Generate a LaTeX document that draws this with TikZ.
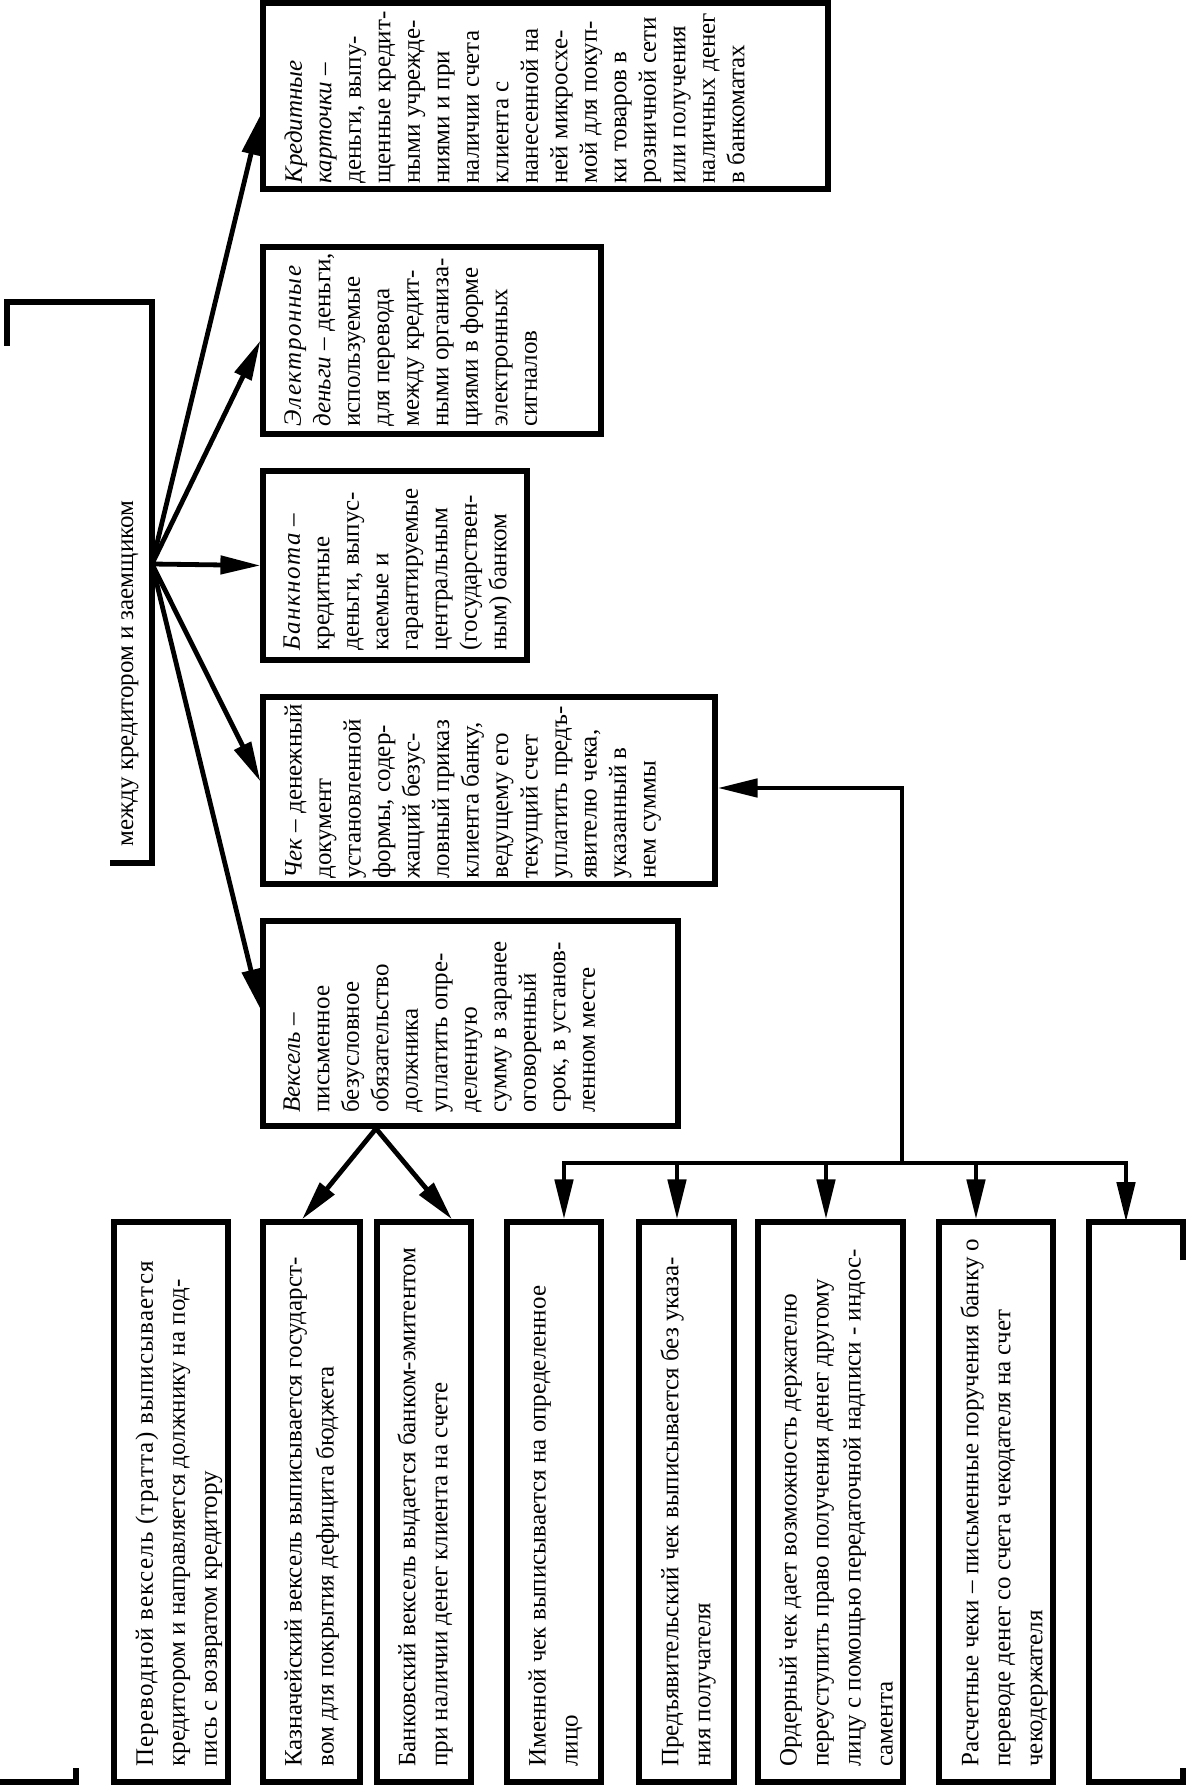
\documentclass[tikz,border=0pt]{standalone}
\usepackage{fontspec}
\setmainfont{Liberation Serif}
\newfontface\itsp{Liberation Serif Italic}[LetterSpace=6]
\newfontface\rmsp{Liberation Serif}[LetterSpace=4.8]
\usetikzlibrary{arrows.meta,fit}
\newcommand\fontUp{\fontsize{12.5pt}{14.75pt}\selectfont}
\newcommand\fontDn{\fontsize{12.5pt}{16pt}\selectfont}
\begin{document}
\begin{tikzpicture}[x=0.5pt,y=-0.5pt,
  box/.style={draw, line width=2.6pt, inner sep=0pt, rectangle},
  txtup/.style={rotate=90, anchor=north west, align=left, inner sep=0pt, font=\fontUp},
  txtdn/.style={rotate=90, anchor=north west, align=left, inner sep=0pt, font=\fontDn},
  ln/.style={line width=2.6pt},
  arr/.style={line width=2.4pt, -{Triangle[length=20pt,width=9pt]}}]
\fill[white] (0,0) rectangle (1186,1786);
\useasboundingbox (0,0) rectangle (1186,1786);

% partial box on the left
\draw[ln] (7,346) -- (7,302) -- (152,302) -- (152,863) -- (110,863);
\node[anchor=base west, rotate=90, inner sep=0pt, font=\fontUp] (mezhT) at (133,847) {между кредитором и заемщиком};
\coordinate (src) at (152,564);

% upper boxes
\node[box, fit={(263,3)(828,189)}] (kred) {};
\node[txtup] (kredT) at (284,184) {\textit{Кредитные}\\\textit{карточки} –\\деньги, выпу-\\щенные кредит-\\ными учрежде-\\ниями и при\\наличии счета\\клиента с\\нанесенной на\\ней микросхе-\\мой для покуп-\\ки товаров в\\розничной сети\\или получения\\наличных денег\\в банкоматах};

\node[box, fit={(263,247)(601,434)}] (elec) {};
\node[txtup] (elecT) at (284,427) {{\itsp Электронные}\\\textit{деньги} – деньги,\\используемые\\для перевода\\между кредит-\\ными организа-\\циями в форме\\электронных\\сигналов};

\node[box, fit={(263,471)(527,660)}] (bank) {};
\node[txtup] (bankT) at (283,651) {{\itsp Банкнота} –\\кредитные\\деньги, выпус-\\каемые и\\гарантируемые\\центральным\\(государствен-\\ным) банком};

\node[box, fit={(263,697)(715,884)}] (chek) {};
\node[txtup] (chekT) at (284,879) {\textit{Чек} – денежный\\документ\\установленной\\формы, содер-\\жащий безус-\\ловный приказ\\клиента банку,\\ведущему его\\текущий счет\\уплатить предъ-\\явителю чека,\\указанный в\\нем суммы};

\node[box, fit={(263,921)(678,1126)}] (veks) {};
\node[txtup] (veksT) at (283,1113) {\textit{Вексель} –\\письменное\\безусловное\\обязательство\\должника\\уплатить опре-\\деленную\\сумму в заранее\\оговоренный\\срок, в установ-\\ленном месте};

% bottom boxes
\node[box, fit={(114,1222)(228,1782)}] (b1) {};
\node[txtdn] (b1T) at (135,1767) {{\rmsp Переводной вексель (тратта) выписывается}\\кредитором и направляется должнику на под-\\пись с возвратом кредитору};

\node[box, fit={(263,1222)(360,1782)}] (b2) {};
\node[txtdn] (b2T) at (284,1767) {Казначейский вексель выписывается государст-\\вом для покрытия дефицита бюджета};

\node[box, fit={(377,1222)(471,1782)}] (b3) {};
\node[txtdn] (b3T) at (397,1767) {Банковский вексель выдается банком-эмитентом\\при наличии денег клиента на счете};

\node[box, fit={(507,1222)(601,1782)}] (b4) {};
\node[txtdn] (b4T) at (528,1767) {Именной чек выписывается на определенное\\лицо};

\node[box, fit={(639,1222)(734,1782)}] (b5) {};
\node[txtdn] (b5T) at (660,1767) {Предъявительский чек выписывается без указа-\\ния получателя};

\node[box, fit={(758,1222)(903,1782)}] (b6) {};
\node[txtdn] (b6T) at (779,1767) {Ордерный чек дает возможность держателю\\переуступить право получения денег другому\\лицу с помощью передаточной надписи - индос-\\самента};

\node[box, fit={(939,1222)(1053,1782)}] (b7) {};
\node[txtdn] (b7T) at (960,1767) {Расчетные чеки – письменные поручения банку о\\переводе денег со счета чекодателя на счет\\чекодержателя};

% partial box at the right
\draw[ln] (1183,1260) -- (1183,1222) -- (1089,1222) -- (1089,1782) -- (1183,1782) -- (1183,1768);
\coordinate (b8top) at (1126,1222);

% bracket bottom left
\draw[ln] (76,1768) -- (76,1782) -- (0,1782);

% arrows from the left box
\draw[arr] (src) -- ([yshift=-9.5pt]kred.west);
\draw[arr] (src) -- (elec.west);
\draw[arr] (src) -- (bank.west);
\draw[arr] (src) -- ([yshift=4.5pt]chek.west);
\draw[arr] (src) -- ([yshift=7.2pt]veks.west);

% arrows from Vexel
\coordinate (vsrc) at ([xshift=-47.25pt]veks.south);
\draw[arr] (vsrc) -- ([xshift=-4.75pt]b2.north);
\draw[arr] (vsrc) -- ([xshift=14pt]b3.north);

% check tree
\coordinate (jc) at (902,788);
\coordinate (jb) at (902,1163);
\coordinate (bL) at (564,1163);
\coordinate (bR) at (1126,1163);
\coordinate (c5) at (677,1163);
\coordinate (c6) at (826,1163);
\coordinate (c7) at (976,1163);
\draw[arr] (jb) -- (jc) -- (jc -| chek.east);
\draw[arr] (bR) -- (bL) -- (bL |- b4.north);
\draw[arr] (bL) -- (bR) -- (b8top);
\draw[arr] (c5) -- (c5 |- b5.north);
\draw[arr] (c6) -- (c6 |- b6.north);
\draw[arr] (c7) -- (c7 |- b7.north);
\end{tikzpicture}
\end{document}
